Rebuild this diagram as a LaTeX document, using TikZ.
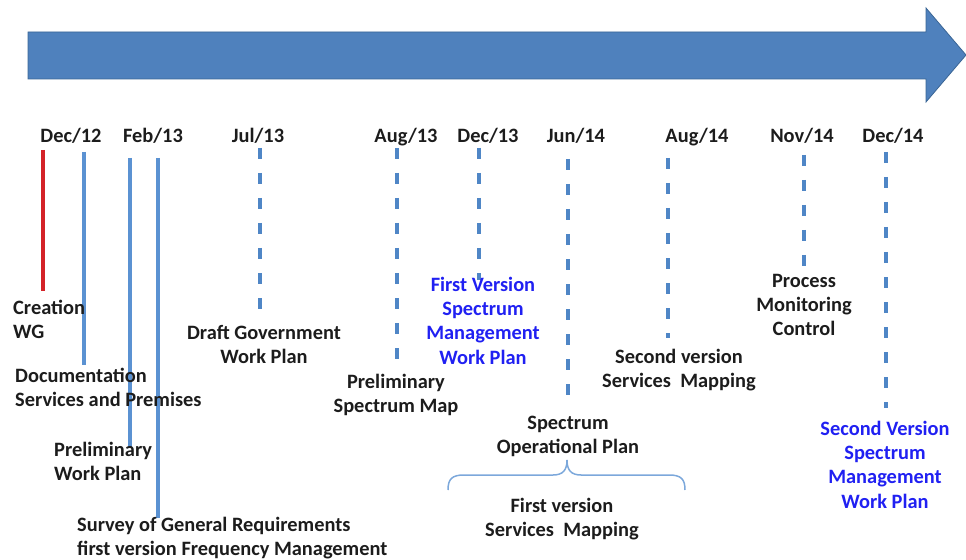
\documentclass[tikz,border=0pt]{standalone}
\usepackage{fontspec}
\newfontfamily\carl{Carlito}
\newcommand\topstrut{\rule{0pt}{15bp}}
\definecolor{arrowfill}{HTML}{4F81BD}
\definecolor{arrowedge}{HTML}{3A6595}
\definecolor{dashblue}{HTML}{4F86C6}
\definecolor{solidblue}{HTML}{5B92D2}
\definecolor{eventred}{HTML}{D42228}
\definecolor{textdark}{HTML}{1C1C1C}
\definecolor{textblue}{HTML}{2020F2}
\tikzset{
  lbl/.style={font=\carl\bfseries\fontsize{20.4bp}{24.2bp}\selectfont, text=textdark,
    inner sep=0pt, execute at begin node=\topstrut},
  ctr/.style={lbl, align=center, anchor=north},
  lft/.style={lbl, align=left, anchor=north west},
  bluetext/.style={text=textblue},
  datelbl/.style={lbl, anchor=north},
  planned/.style={dashblue, line width=3.2bp, dash pattern=on 11bp off 14bp},
  done/.style={solidblue, line width=3.2bp},
  founding/.style={eventred, line width=3.2bp},
  bracket/.style={solidblue!80, line width=1.5bp},
}
\begin{document}
\begin{tikzpicture}[x=1bp, y=-1bp]
\useasboundingbox (0,0) rectangle (966,560);

% time arrow
\fill[arrowfill, draw=arrowedge, line width=0.8bp, line join=miter]
  (28,32) -- (926,32) -- (926,8) -- (966,55) -- (926,102) -- (926,79) -- (28,79) -- cycle;

% dates (baselines at 142)
\node[datelbl] (d1) at (71,127)  {Dec/12};
\node[datelbl] (d2) at (153,127) {Feb/13};
\node[datelbl] (d3) at (258,127) {Jul/13};
\node[datelbl] (d4) at (406,127) {Aug/13};
\node[datelbl] (d5) at (488,127) {Dec/13};
\node[datelbl] (d6) at (576,127) {Jun/14};
\node[datelbl] (d7) at (697,127) {Aug/14};
\node[datelbl] (d8) at (802,127) {Nov/14};
\node[datelbl] (d9) at (893,127) {Dec/14};

% marker line end points
\coordinate (m1t) at (43,150);  \coordinate (m1b) at (43,291);
\coordinate (m2t) at (84,152);  \coordinate (m2b) at (84,365);
\coordinate (m3t) at (130,158); \coordinate (m3b) at (130,448);
\coordinate (m4t) at (158,158); \coordinate (m4b) at (158,518);
\coordinate (m5t) at (260,148); \coordinate (m5b) at (260,310);
\coordinate (m6t) at (397,148); \coordinate (m6b) at (397,360);
\coordinate (m7t) at (479,148); \coordinate (m7b) at (479,280);
\coordinate (m8t) at (568,159); \coordinate (m8b) at (568,408);
\coordinate (m9t) at (668,158); \coordinate (m9b) at (668,338);
\coordinate (m10t) at (804,155); \coordinate (m10b) at (804,268);
\coordinate (m11t) at (886,152); \coordinate (m11b) at (886,408);

\draw[founding] (m1t) -- (m1b);
\draw[done] (m2t) -- (m2b);
\draw[done] (m3t) -- (m3b);
\draw[done] (m4t) -- (m4b);
\draw[planned] (m5t) -- (m5b);
\draw[planned] (m6t) -- (m6b);
\draw[planned] (m7t) -- (m7b);
\draw[planned] (m8t) -- (m8b);
\draw[planned] (m9t) -- (m9b);
\draw[planned] (m10t) -- (m10b);
\draw[planned] (m11t) -- (m11b);

% milestone texts (anchor sits 15bp above the first baseline)
\node[lft] (e1) at (13,300) {Creation\\WG};
\node[lft] (e2) at (15,368) {Documentation\\Services and Premises};
\node[lft] (e3) at (54,442) {Preliminary\\Work Plan};
\node[lft] (e4) at (77,517) {Survey of General Requirements\\first version Frequency Management};
\node[ctr] (e5) at (264,325) {Draft Government\\Work Plan};
\node[ctr] (e6) at (396,374) {Preliminary\\Spectrum Map};
\node[ctr, bluetext] (e7) at (483,277) {First Version\\Spectrum\\Management\\Work Plan};
\node[ctr] (e8) at (568,416) {Spectrum\\Operational Plan};
\node[ctr] (e9) at (679,349) {Second version\\Services\ \ Mapping};
\node[ctr] (e10) at (804,274) {Process\\Monitoring\\Control};
\node[ctr, bluetext] (e11) at (885,421) {Second Version\\Spectrum\\Management\\Work Plan};
\node[ctr] (e12) at (562,498) {First version\\Services\ \ Mapping};

% curly bracket grouping the two mappings
\coordinate (bl) at (448,490);
\coordinate (bt) at (567,460);
\coordinate (br) at (685,490);
\draw[bracket] (bl) .. controls (448,479) and (452,475) .. (464,475) -- (553,475)
  .. controls (563,475) and (567,470) .. (bt)
  .. controls (567,470) and (571,475) .. (581,475) -- (669,475)
  .. controls (681,475) and (685,479) .. (br);
\end{tikzpicture}
\end{document}
